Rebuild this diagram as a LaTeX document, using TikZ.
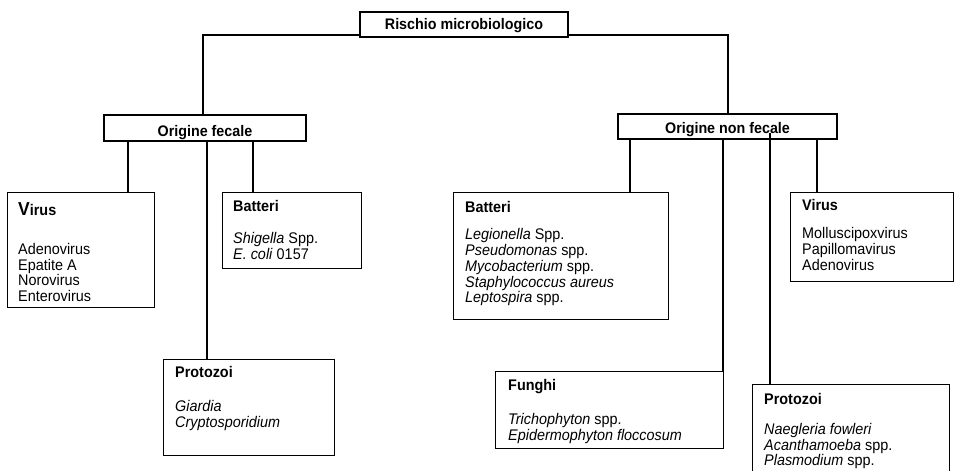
\documentclass[tikz,border=0pt]{standalone}
\usepackage{fontspec}
\setmainfont{Liberation Sans}
\usetikzlibrary{backgrounds}

% text is set slightly taller than wide
\newcommand\tallbox[1]{\scalebox{1}[1.07]{#1}}
\newcommand\leaflist[3]{\tallbox{\begin{tabular}[t]{@{}l@{}}#1\\[#2]#3\end{tabular}}}

\tikzset{
  hubbox/.style={draw, line width=1.3pt, fill=white, inner sep=0pt,
    font=\fontsize{14.3}{14.3}\selectfont\bfseries, text depth=0pt},
  leafbox/.style={draw, line width=1.3pt, fill=white, inner sep=0pt, anchor=north west},
  leaftext/.style={anchor=base west, inner sep=0pt, font=\fontsize{14.4}{14.3}\selectfont},
  link/.style={line width=1.6pt},
}

\begin{document}
\begin{tikzpicture}[x=1pt,y=-1pt]
\useasboundingbox (0,0) rectangle (954,471);
\clip (0,0) rectangle (954,471);

% root and the two origin groups
\node[hubbox, minimum width=208pt, minimum height=25pt, text height=9pt] (root) at (464,24.5) {\tallbox{Rischio microbiologico}};
\node[hubbox, minimum width=202pt, minimum height=26pt, text height=16pt] (fec) at (205,128) {\tallbox{Origine fecale}};
\node[hubbox, minimum width=219pt, minimum height=25pt, text height=13pt] (nfec) at (727.5,126.5) {\tallbox{Origine non fecale}};

% leaf boxes
\node[leafbox, minimum width=147pt, minimum height=115pt] (fvir) at (7,192) {};
\node[leafbox, minimum width=139pt, minimum height=76pt] (fbat) at (222,192) {};
\node[leafbox, minimum width=171pt, minimum height=96pt] (fpro) at (163,359) {};
\node[leafbox, minimum width=215pt, minimum height=127pt] (nbat) at (453,192) {};
\node[leafbox, minimum width=162.5pt, minimum height=89pt] (nvir) at (790,192) {};
\node[leafbox, minimum width=228pt, minimum height=77pt] (nfun) at (495,371) {};
\node[leafbox, minimum width=197pt, minimum height=110pt] (npro) at (752,384) {};

% leaf contents
\node[leaftext] (fvir-t) at (18,215) {\leaflist{\textbf{\fontsize{17.5}{14.3}\selectfont V}\textbf{irus}}{22pt}
  {Adenovirus\\ Epatite A\\ Norovirus\\ Enterovirus}};
\node[leaftext] (fbat-t) at (233,211) {\leaflist{\textbf{Batteri}}{15.6pt}
  {\textit{Shigella} Spp.\\ \textit{E. coli} 0157}};
\node[leaftext] (fpro-t) at (175,377) {\leaflist{\textbf{Protozoi}}{17.5pt}
  {\textit{Giardia}\\ \textit{Cryptosporidium}}};
\node[leaftext] (nbat-t) at (465,212) {\leaflist{\textbf{Batteri}}{11.4pt}
  {\textit{Legionella} Spp.\\ \textit{Pseudomonas} spp.\\ \textit{Mycobacterium} spp.\\
   \textit{Staphylococcus aureus}\\ \textit{Leptospira} spp.}};
\node[leaftext] (nvir-t) at (802,210) {\leaflist{\textbf{Virus}}{11.9pt}
  {Molluscipoxvirus\\ Papillomavirus\\ Adenovirus}};
\node[leaftext] (nfun-t) at (508,390) {\leaflist{\textbf{Funghi}}{17.5pt}
  {\textit{Trichophyton} spp.\\ \textit{Epidermophyton floccosum}}};
\node[leaftext] (npro-t) at (764,404) {\leaflist{\textbf{Protozoi}}{13.7pt}
  {\textit{Naegleria fowleri}\\ \textit{Acanthamoeba} spp.\\ \textit{Plasmodium} spp.}};

% drop positions of the connectors
\coordinate (bus) at (0,35);
\coordinate (xf) at (203,0);
\coordinate (xn) at (728,0);
\coordinate (x1) at (128,0);
\coordinate (x2) at (207,0);
\coordinate (x3) at (253,0);
\coordinate (x4) at (630,0);
\coordinate (x5) at (723,0);
\coordinate (x6) at (770,0);
\coordinate (x7) at (817,0);

\begin{scope}[on background layer]
  \draw[link] (fec.north -| xf) -- (bus -| xf) -- (bus -| xn) -- (nfec.north -| xn);
  \draw[link] (fec.south -| x1) -- (fvir.north -| x1);
  \draw[link] (fec.south -| x2) -- (fpro.north -| x2);
  \draw[link] (fec.south -| x3) -- (fbat.north -| x3);
  \draw[link] (nfec.south -| x4) -- (nbat.north -| x4);
  \draw[link] (nfec.south -| x5) -- (nfun.north -| x5);
  \draw[link] (nfec.south -| x7) -- (nvir.north -| x7);
\end{scope}
% this one starts inside the group box
\draw[link] (nfec.south -| x6) ++(0,-7) -- (npro.north -| x6);
\end{tikzpicture}
\end{document}
